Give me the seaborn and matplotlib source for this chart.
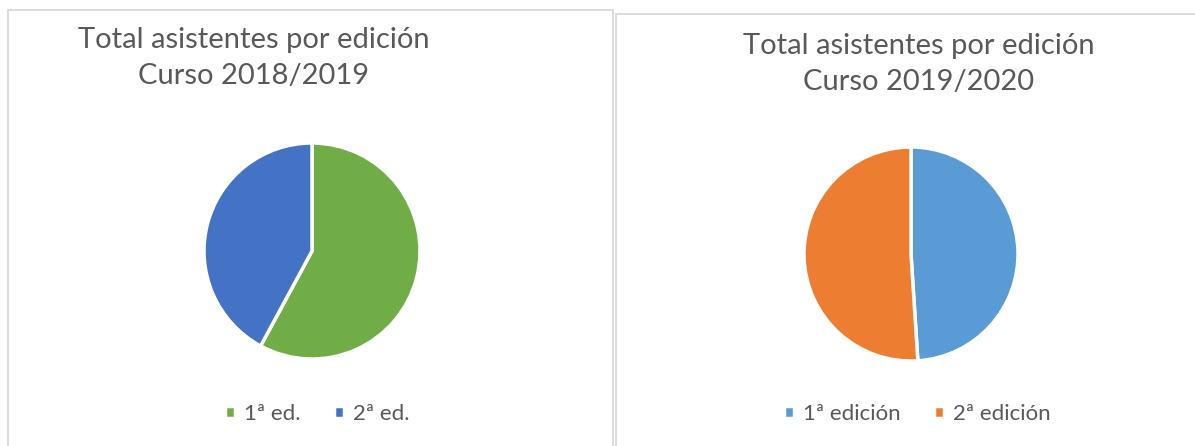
import matplotlib.pyplot as plt
import seaborn as sns
from matplotlib.patches import Rectangle

# Data
labels_1819 = ["1ª ed.", "2ª ed."]
values_1819 = [22, 16]
colors_1819 = ["#70AD47", "#4472C4"]

labels_1920 = ["1ª edición", "2ª edición"]
values_1920 = [24, 25]
colors_1920 = ["#5B9BD5", "#ED7D31"]

titles = ["Total asistentes por edición\nCurso 2018/2019",
          "Total asistentes por edición\nCurso 2019/2020"]

sns.set_theme(style="white")
plt.rcParams['font.family'] = ['Lato', 'DejaVu Sans']

W, H = 1195, 446
fig = plt.figure(figsize=(W / 100, H / 100), dpi=100)
fig.patch.set_facecolor("white")


def fx(px):
    return px / W


def fy(py):
    return 1 - py / H


# panel borders
fig.patches.append(Rectangle((fx(8), fy(460)), fx(605), (460 - 10) / H, transform=fig.transFigure,
                             fill=False, edgecolor="#D9D9D9", linewidth=1.3))
fig.patches.append(Rectangle((fx(616), fy(460)), fx(600), (460 - 14) / H, transform=fig.transFigure,
                             fill=False, edgecolor="#D9D9D9", linewidth=1.3))

panels = [
    dict(labels=labels_1819, values=values_1819, colors=colors_1819, title=titles[0],
         cx=312, cy=251, r=108, tx=254, ty=58, lx=317, ly=414),
    dict(labels=labels_1920, values=values_1920, colors=colors_1920, title=titles[1],
         cx=911, cy=254, r=107, tx=919, ty=64, lx=917, ly=414),
]

for p in panels:
    ax = fig.add_axes([fx(p['cx'] - p['r']), fy(p['cy'] + p['r']), 2 * p['r'] / W, 2 * p['r'] / H])
    wedges, _ = ax.pie(p['values'], colors=p['colors'], startangle=90, counterclock=False,
                       wedgeprops=dict(edgecolor="white", linewidth=2.5))
    ax.set_xlim(-1, 1)
    ax.set_ylim(-1, 1)
    for w in wedges:
        w.set_clip_on(False)
    fig.text(fx(p['tx']), fy(p['ty']), p['title'], ha="center", va="center",
             fontsize=21, color="#595959", linespacing=1.5)
    fig.legend(wedges, p['labels'], loc="center", bbox_to_anchor=(fx(p['lx']), fy(p['ly'])),
               ncol=2, frameon=False, fontsize=16, labelcolor="#595959",
               handlelength=0.45, handleheight=0.45, handletextpad=0.4, columnspacing=1.5)

fig.savefig("out.png", dpi=100)
